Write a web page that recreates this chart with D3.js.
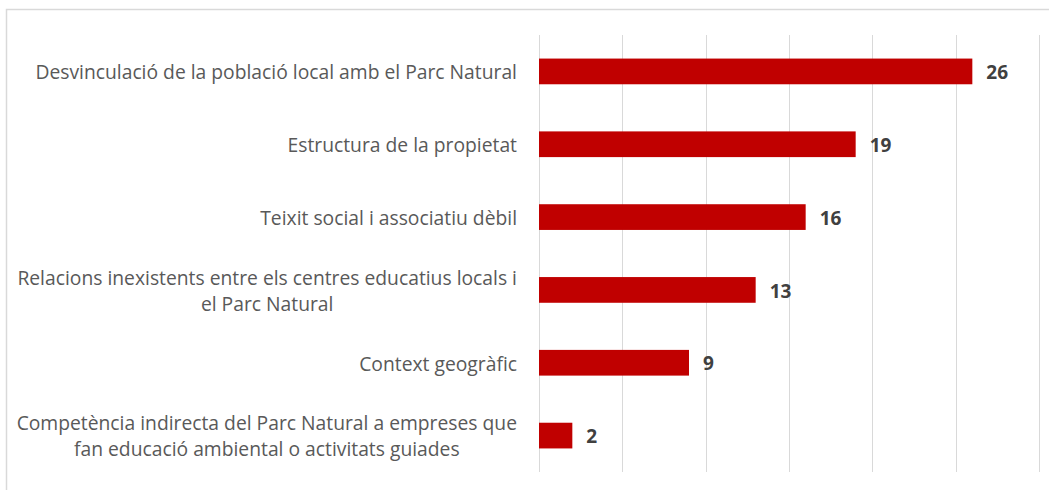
<!DOCTYPE html>
<html>
<head>
<meta charset="utf-8">
<script src="https://cdn.jsdelivr.net/npm/d3@7"></script>
<style>
  body { margin: 0; background: #fff; }
  .cat-label { font-family: "Open Sans", sans-serif; font-size: 19.3px; fill: #595959; }
  .val-label { font-family: "Open Sans", sans-serif; font-size: 19px; font-weight: bold; fill: #404040; }
</style>
</head>
<body>
<div id="chart"></div>
<script>
// Dades del gràfic
const categories = [
  ["Desvinculació de la població local amb el Parc Natural"],
  ["Estructura de la propietat"],
  ["Teixit social i associatiu dèbil"],
  ["Relacions inexistents entre els centres educatius locals i", "el Parc Natural"],
  ["Context geogràfic"],
  ["Competència indirecta del Parc Natural a empreses que", "fan educació ambiental o activitats guiades"]
];
const values = [26, 19, 16, 13, 9, 2];
const xTicks = [0, 5, 10, 15, 20, 25, 30];

const width = 1049, height = 490;
const svg = d3.select("#chart").append("svg").attr("width", width).attr("height", height);

// Marc exterior
svg.append("rect")
  .attr("x", 6.5).attr("y", 9.5)
  .attr("width", 1200).attr("height", 600)
  .attr("fill", "none").attr("stroke", "#d9d9d9").attr("stroke-width", 1.5);

const x = d3.scaleLinear().domain([0, 30]).range([539, 1039]);
const y = d3.scaleBand()
  .domain(d3.range(categories.length))
  .range([35, 472])
  .paddingInner(0.647)
  .paddingOuter(0.3235);

// Línies de la graella
svg.append("g")
  .selectAll("line")
  .data(xTicks)
  .join("line")
  .attr("x1", d => Math.round(x(d)) + 0.5)
  .attr("x2", d => Math.round(x(d)) + 0.5)
  .attr("y1", 35)
  .attr("y2", 472)
  .attr("stroke", "#d9d9d9")
  .attr("stroke-width", 1);

// Barres
svg.append("g")
  .selectAll("rect")
  .data(values)
  .join("rect")
  .attr("x", x(0))
  .attr("y", (d, i) => y(i))
  .attr("width", d => x(d) - x(0))
  .attr("height", y.bandwidth())
  .attr("fill", "#c00000");

// Etiquetes de valor
svg.append("g")
  .selectAll("text")
  .data(values)
  .join("text")
  .attr("class", "val-label")
  .attr("x", d => x(d) + 14)
  .attr("y", (d, i) => y(i) + y.bandwidth() / 2 + 1)
  .attr("dy", "0.35em")
  .text(d => d);

// Etiquetes de categoria (centrades dins el bloc, alineades a la dreta)
const labelRight = 517;
const lineGap = 26;
categories.forEach((lines, i) => {
  const g = svg.append("g");
  const cy = y(i) + y.bandwidth() / 2 + 1;
  const texts = lines.map((line, j) => g.append("text")
    .attr("class", "cat-label")
    .attr("y", cy + (j - (lines.length - 1) / 2) * lineGap)
    .attr("dy", "0.35em")
    .attr("text-anchor", "middle")
    .text(line));
  const maxW = d3.max(texts, t => t.node().getComputedTextLength());
  texts.forEach(t => t.attr("x", labelRight - maxW / 2));
});
</script>
</body>
</html>
